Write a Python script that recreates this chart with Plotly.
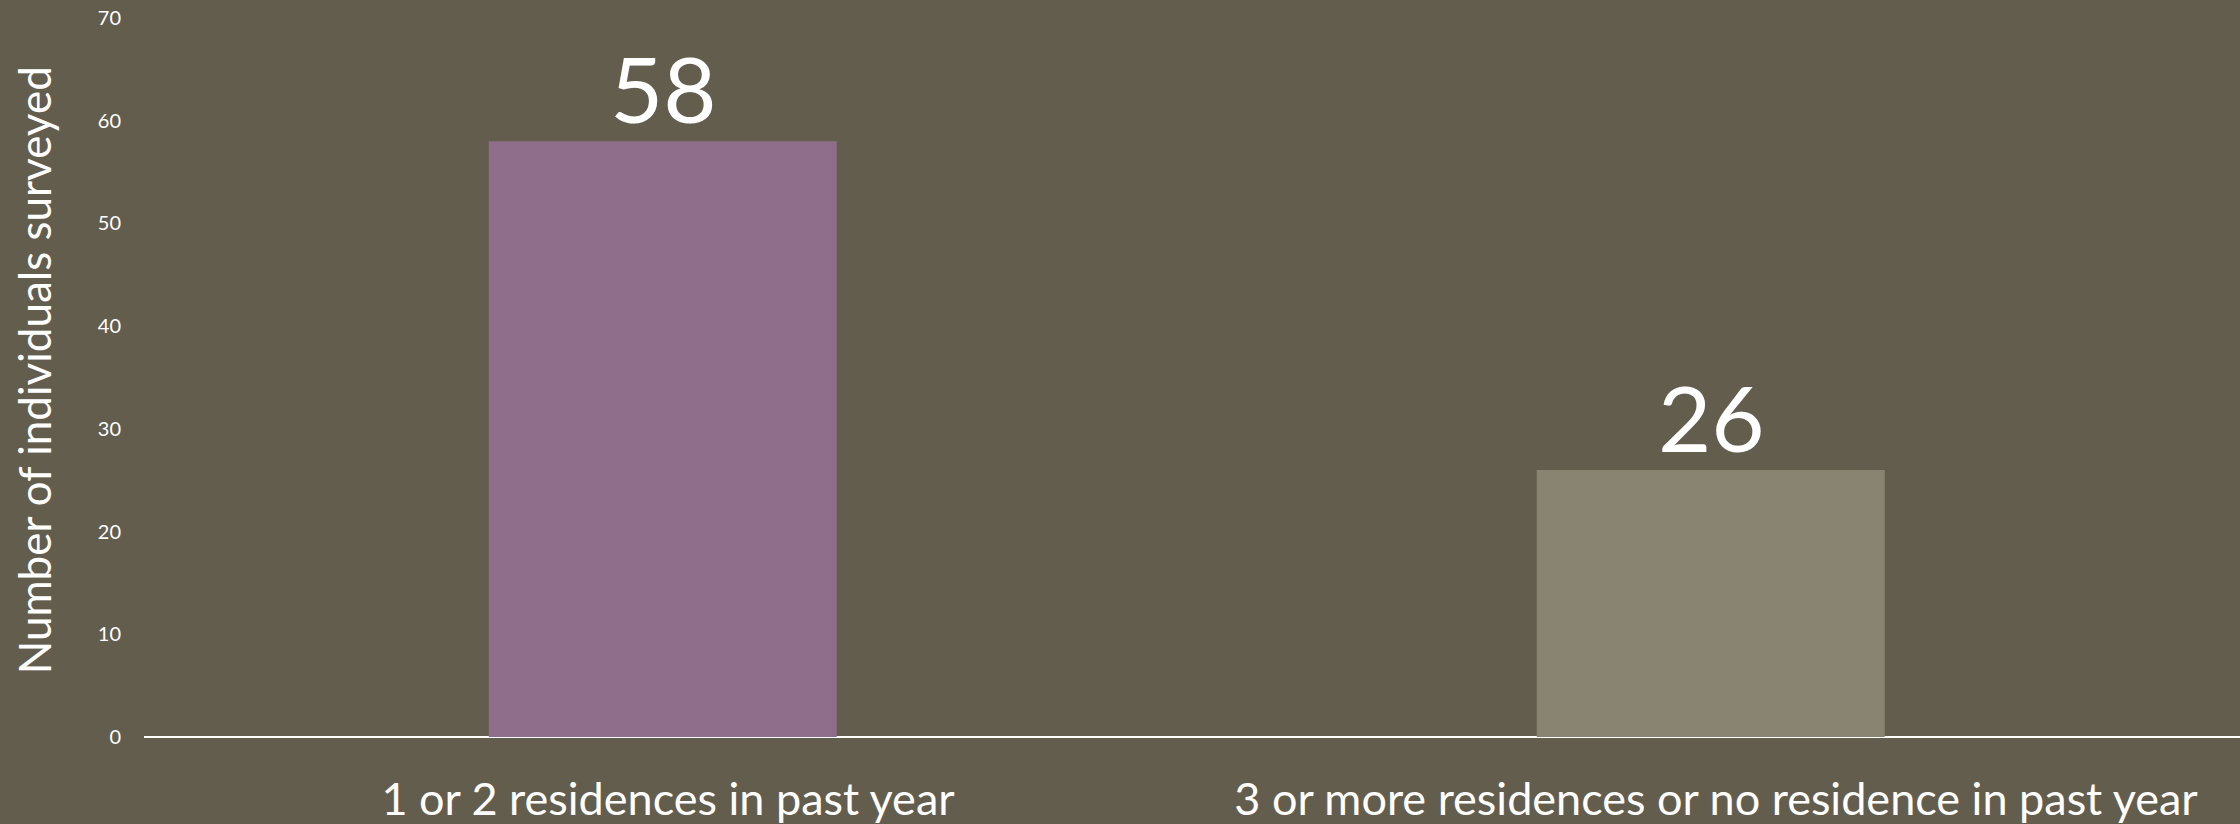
import plotly.graph_objects as go

# Survey counts by number of residences held in the past year
categories = ["1 or 2 residences in past year",
              "3 or more residences or no residence in past year"]
counts = [58, 26]
bar_colors = ["#8E6E8A", "#898371"]
y_ticks = [0, 10, 20, 30, 40, 50, 60, 70]

BG = "#635D4E"
FONT = "Lato"

fig = go.Figure()
fig.add_trace(go.Bar(
    x=categories,
    y=counts,
    marker=dict(color=bar_colors, line=dict(width=0)),
    width=0.332,
    offset=-0.171,
    hoverinfo="skip",
))

# Value labels above each bar
for cat, val in zip(categories, counts):
    fig.add_annotation(
        x=cat, y=val, xref="x", yref="y",
        text=str(val), showarrow=False,
        yanchor="bottom", yshift=-4, xshift=-5,
        font=dict(family=FONT, size=92, color="white"),
    )

# Vertical axis title
fig.add_annotation(
    xref="paper", yref="paper", x=0, y=0.51,
    xshift=-110, text="Number of individuals surveyed",
    textangle=-90, showarrow=False,
    xanchor="center", yanchor="middle",
    font=dict(family=FONT, size=44, color="white"),
)

fig.update_layout(
    width=2240, height=824,
    paper_bgcolor=BG, plot_bgcolor=BG,
    margin=dict(l=144, r=0, t=18, b=87, autoexpand=False),
    showlegend=False,
    xaxis=dict(
        showgrid=False, zeroline=False, showline=False,
        ticks="", ticklabelstandoff=32,
        tickfont=dict(family=FONT, size=45, color="white"),
    ),
    yaxis=dict(
        range=[0, 70], tickvals=y_ticks,
        showgrid=False, zeroline=True, zerolinecolor="white",
        zerolinewidth=2, showline=False, ticks="",
        ticklabelstandoff=22,
        tickfont=dict(family=FONT, size=20, color="white"),
    ),
)

fig.write_html("out.html")
